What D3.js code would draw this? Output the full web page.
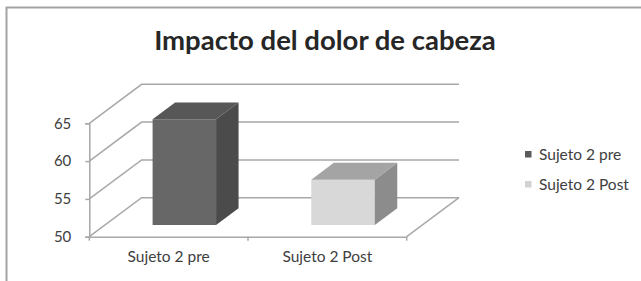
<!DOCTYPE html>
<html>
<head>
<meta charset="utf-8">
<script src="https://cdn.jsdelivr.net/npm/d3@7"></script>
<style>
  body { margin: 0; background: #fff; }
  text { font-family: Lato, "Open Sans", sans-serif; }
</style>
</head>
<body>
<script>
// data
var categories = ["Sujeto 2 pre", "Sujeto 2 Post"];
var values = [64, 56];
var yTicks = [50, 55, 60, 65];
var titleText = "Impacto del dolor de cabeza";

// bar shading (front, side, top)
var barColors = [
    { front: "#676767", side: "#4b4b4b", top: "#575757", key: "#5b5b5b" },
    { front: "#d8d8d8", side: "#8c8c8c", top: "#a4a4a4", key: "#d2d2d2" }
];

var width = 641, height = 281;
var depth = { x: 52.3, y: -39 };   // offset of the back wall
var gridColor = "#a8a8a8";
var textColor = "#404040";

var svg = d3.select("body").append("svg")
    .attr("width", width)
    .attr("height", height);

// frame of the chart area
svg.append("path")
    .attr("d", "M6.5,281 L6.5,7.5 L641,7.5")
    .attr("fill", "none")
    .attr("stroke", "#a3a3a3")
    .attr("stroke-width", 2);

// title
svg.append("text")
    .attr("x", 325)
    .attr("y", 50)
    .attr("text-anchor", "middle")
    .attr("font-size", 27.5)
    .attr("font-weight", "bold")
    .attr("fill", "#262626")
    .text(titleText);

var yScale = d3.scaleLinear().domain([50, 65]).range([236.7, 123.3]);
var xScale = d3.scaleBand().domain(categories).range([89.3, 406.7]);

function shift(p, d) {
    return [p[0] + d * depth.x, p[1] + d * depth.y];
}

var line = d3.line();

// back wall gridlines + side wall diagonals
var grid = svg.append("g")
    .attr("fill", "none")
    .attr("stroke", gridColor)
    .attr("stroke-width", 1.5);

yTicks.forEach(function (t) {
    var front = [xScale.range()[0], yScale(t)];
    var backL = shift(front, 1);
    var backR = shift([xScale.range()[1], yScale(t)], 1);
    grid.append("path").attr("d", line([front, backL, backR]));
});

// floor right edge
grid.append("path").attr("d", line([
    [xScale.range()[1], yScale(50)],
    shift([xScale.range()[1], yScale(50)], 1)
]));

// y axis
var yAxis = svg.append("g")
    .attr("transform", "translate(" + xScale.range()[0] + ",0)")
    .call(d3.axisLeft(yScale).tickValues(yTicks).tickSize(4).tickPadding(14));
yAxis.select(".domain").attr("stroke", gridColor).attr("stroke-width", 1.5);
yAxis.selectAll(".tick line").attr("stroke", gridColor).attr("stroke-width", 1.5);
yAxis.selectAll(".tick text")
    .attr("font-size", 15)
    .attr("fill", textColor)
    .style("font-family", "Lato, sans-serif");

// x axis
var xAxis = svg.append("g")
    .attr("transform", "translate(0," + yScale(50) + ")")
    .call(d3.axisBottom(xScale).tickSize(0).tickPadding(14));
xAxis.select(".domain").attr("stroke", gridColor).attr("stroke-width", 1.5);
xAxis.selectAll(".tick text")
    .attr("font-size", 15.5)
    .attr("fill", textColor)
    .style("font-family", "Lato, sans-serif");

// boundary ticks on the x axis
var bounds = [xScale.range()[0]].concat(categories.map(function (c) { return xScale(c) + xScale.bandwidth(); }));
svg.append("g").selectAll("line")
    .data(bounds)
    .enter().append("line")
    .attr("x1", function (d) { return d; })
    .attr("x2", function (d) { return d; })
    .attr("y1", yScale(50))
    .attr("y2", yScale(50) + 4)
    .attr("stroke", gridColor)
    .attr("stroke-width", 1.5);

// 3d bars
var d0 = 0.3, d1 = 0.73, barFrac = 0.4;
var bars = svg.append("g");

categories.forEach(function (c, i) {
    var cx = xScale(c) + xScale.bandwidth() / 2;
    var w = xScale.bandwidth() * barFrac;
    var tl = shift([cx - w / 2, yScale(values[i])], d0);
    var tr = shift([cx + w / 2, yScale(values[i])], d0);
    var br = shift([cx + w / 2, yScale(50)], d0);
    var bl = shift([cx - w / 2, yScale(50)], d0);
    var dd = d1 - d0;
    var col = barColors[i];

    bars.append("path")
        .attr("d", line([tl, tr, br, bl]) + "Z")
        .attr("fill", col.front);
    bars.append("path")
        .attr("d", line([tr, shift(tr, dd), shift(br, dd), br]) + "Z")
        .attr("fill", col.side);
    bars.append("path")
        .attr("d", line([tl, tr, shift(tr, dd), shift(tl, dd)]) + "Z")
        .attr("fill", col.top);
});

// legend
var legend = svg.append("g").attr("transform", "translate(525,151)");
categories.forEach(function (c, i) {
    var g = legend.append("g").attr("transform", "translate(0," + (i * 30) + ")");
    g.append("rect")
        .attr("width", 6.5)
        .attr("height", 6.5)
        .attr("fill", barColors[i].key);
    g.append("text")
        .attr("x", 14)
        .attr("y", 9)
        .attr("font-size", 15.5)
        .attr("fill", textColor)
        .text(c);
});
</script>
</body>
</html>
